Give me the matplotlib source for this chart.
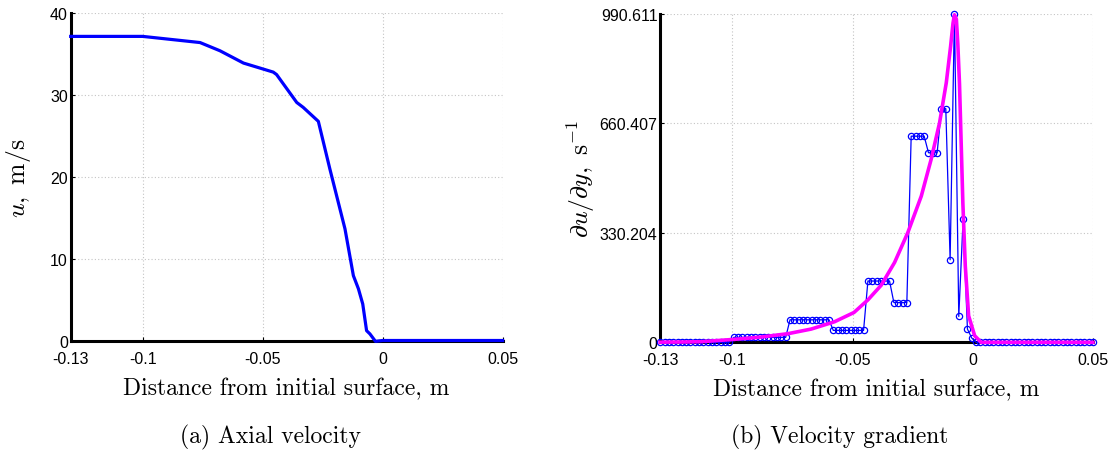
import numpy as np
import matplotlib
matplotlib.use("Agg")
from matplotlib import pyplot as plt

plt.rcParams["mathtext.fontset"] = "cm"
plt.rcParams["font.family"] = ["Liberation Sans", "DejaVu Sans"]

# (a) axial velocity profile
u_x = [-0.13, -0.1, -0.0761, -0.0678, -0.058, -0.0456, -0.0442, -0.0358, -0.0331,
       -0.0268, -0.022, -0.0157, -0.0122, -0.0101, -0.0083, -0.0067, -0.0053,
       -0.003, 0.0, 0.05]
u_y = [37.15, 37.15, 36.4, 35.4, 33.9, 32.8, 32.5, 29.1, 28.5,
       26.8, 21.0, 13.7, 8.0, 6.4, 4.55, 1.3, 0.9,
       0.0, 0.1, 0.1]

# (b) velocity gradient, sampled on the 101-point grid
grad_x = np.linspace(-0.13, 0.05, 101)
grad_y = ([0] * 17 + [15] * 13 + [68] * 10 + [36] * 8 + [185] * 6 + [120] * 4
          + [622] * 4 + [572] * 3 + [705] * 2
          + [249, 990.611, 78, 371, 40, 13] + [0] * 28)

# smooth fitted curve
fit_x = [-0.13, -0.12, -0.1127, -0.0991, -0.088, -0.0769, -0.0672, -0.0575, -0.0494,
         -0.0436, -0.0381, -0.0325, -0.027, -0.0214, -0.0173, -0.0138, -0.011,
         -0.0092, -0.0082, -0.0076, -0.0068, -0.0062, -0.0055, -0.0048, -0.0041,
         -0.0031, -0.0017, 0.0008, 0.0035, 0.05]
fit_y = [0.5, 1, 2, 9, 16, 26, 40, 62, 90,
         128, 172, 241, 331, 441, 552, 662, 783,
         893, 963, 988, 975, 900, 780, 600, 420,
         231, 80, 20, 0, 0]

x_ticks = [-0.13, -0.1, -0.05, 0, 0.05]
x_labels = ["-0.13", "-0.1", "-0.05", "0", "0.05"]
u_ticks = [0, 10, 20, 30, 40]
grad_ticks = [0, 330.204, 660.407, 990.611]
grad_labels = ["0", "330.204", "660.407", "990.611"]

fig = plt.figure(figsize=(11.15, 4.56), dpi=100)
ax1 = fig.add_axes([0.0634, 0.2493, 0.3874, 0.72])
ax2 = fig.add_axes([0.5921, 0.2471, 0.3881, 0.72])

ax1.plot(u_x, u_y, color="#0000ff", lw=2.3, zorder=5, clip_on=False)

ax2.plot(grad_x, grad_y, color="#0000ff", lw=0.9, marker="o", ms=4.5,
         mfc="none", mec="#0000ff", mew=0.9, zorder=4, clip_on=False)
ax2.plot(fit_x, fit_y, color="#ff00ff", lw=2.6, zorder=5, clip_on=False,
         solid_joinstyle="round")

label_font = dict(fontsize=17, family="cmr10")

for ax in (ax1, ax2):
    ax.set_xlim(-0.13, 0.05)
    ax.set_xticks(x_ticks)
    ax.set_xticklabels(x_labels)
    for s in ("top", "right"):
        ax.spines[s].set_visible(False)
    for s in ("left", "bottom"):
        ax.spines[s].set_linewidth(2.2)
        ax.spines[s].set_zorder(3)
    ax.tick_params(direction="in", length=3, width=0.8, labelsize=11.5)
    ax.tick_params(axis="x", pad=7)
    ax.tick_params(axis="y", pad=2)
    ax.grid(True, color="#c4c4c4", lw=0.8, linestyle=(0, (1, 2)))
    ax.set_axisbelow(True)
    ax.set_xlabel("Distance from initial surface, m", labelpad=8, **label_font)

ax1.set_ylim(0, 40)
ax1.set_yticks(u_ticks)
ax1.set_ylabel(r"$u,\ \mathrm{m/s}$", fontsize=18.5)
ax1.yaxis.set_label_coords(-0.087, 0.5)

ax2.set_ylim(0, 990.611)
ax2.set_yticks(grad_ticks)
ax2.set_yticklabels(grad_labels)
ax2.set_ylabel(r"$\partial u/\partial y,\ \mathrm{s}^{-1}$", fontsize=18.5)
ax2.yaxis.set_label_coords(-0.146, 0.5)

fig.text(270 / 1115, 1 - 437 / 456, "(a) Axial velocity", ha="center",
         va="center", **label_font)
fig.text(840 / 1115, 1 - 437 / 456, "(b) Velocity gradient", ha="center",
         va="center", **label_font)

fig.savefig("out.png", dpi=100)
